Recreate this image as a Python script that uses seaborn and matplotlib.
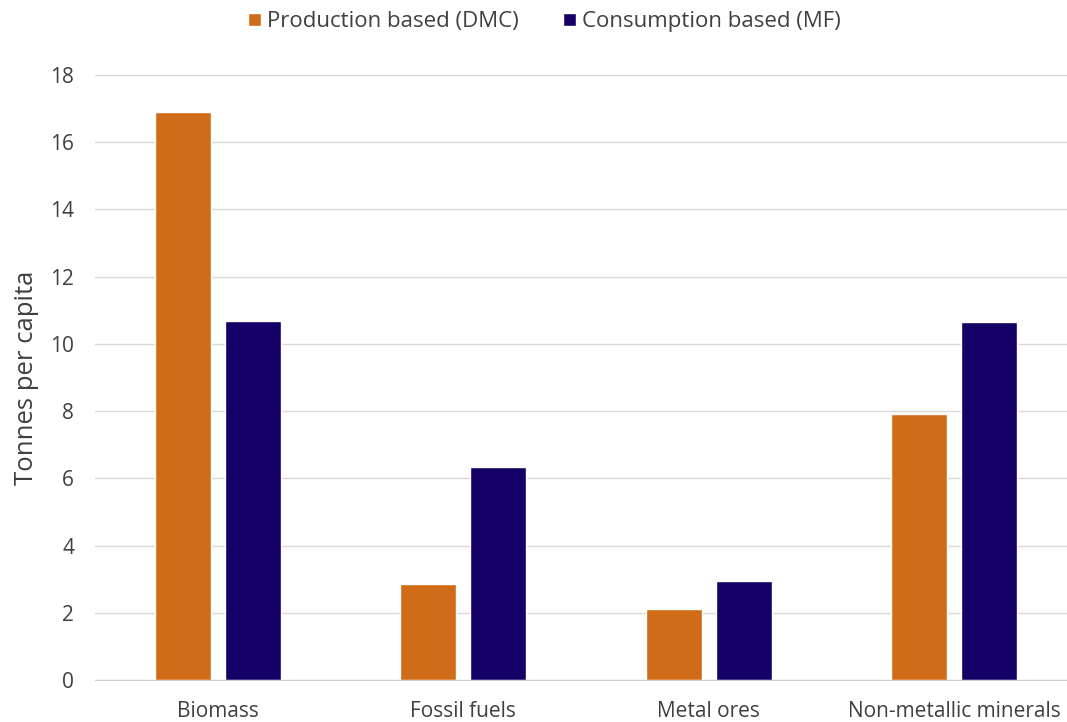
import matplotlib
matplotlib.use("Agg")
from matplotlib import pyplot as plt
import pandas as pd
import seaborn as sns

categories = ["Biomass", "Fossil fuels", "Metal ores", "Non-metallic minerals"]
production_dmc = [16.89, 2.87, 2.11, 7.92]
consumption_mf = [10.69, 6.35, 2.95, 10.66]
series_names = ["Production based (DMC)", "Consumption based (MF)"]
yticks = [0, 2, 4, 6, 8, 10, 12, 14, 16, 18]

df = pd.DataFrame({
    "Category": categories * 2,
    "Series": [series_names[0]] * 4 + [series_names[1]] * 4,
    "Value": production_dmc + consumption_mf,
})

sns.set_style("white")
plt.rcParams["font.family"] = ["Open Sans", "DejaVu Sans"]
text_col = "#404040"

fig = plt.figure(figsize=(10.67, 7.22), dpi=100)
ax = fig.add_axes([95 / 1067, 42 / 722, 982 / 1067, 605 / 722])

sns.barplot(data=df, x="Category", y="Value", hue="Series",
            palette=["#D06C17", "#140066"], width=0.57, gap=0.2,
            saturation=1, ax=ax, legend=True)

ax.set_xlim(-0.5, 3.5)
ax.set_ylim(0, 18)
ax.set_yticks(yticks)
ax.yaxis.grid(True, color="#d9d9d9", linewidth=1)
ax.set_axisbelow(True)
for s in ["top", "right", "left"]:
    ax.spines[s].set_visible(False)
ax.spines["bottom"].set_color("#d0d0d0")
ax.tick_params(axis="both", length=0, labelsize=15, labelcolor=text_col)
ax.tick_params(axis="y", pad=15)
ax.tick_params(axis="x", pad=15)
ax.set_xlabel("")
ax.set_ylabel("Tonnes per capita", fontsize=18.5, color=text_col, labelpad=8)

ax.legend(loc="center", bbox_to_anchor=(0.458, 1.088), ncol=2,
          frameon=False, fontsize=16, handlelength=0.55, handleheight=0.55,
          handletextpad=0.3, columnspacing=2.0, labelcolor=text_col)

fig.savefig("out.png", dpi=100)
